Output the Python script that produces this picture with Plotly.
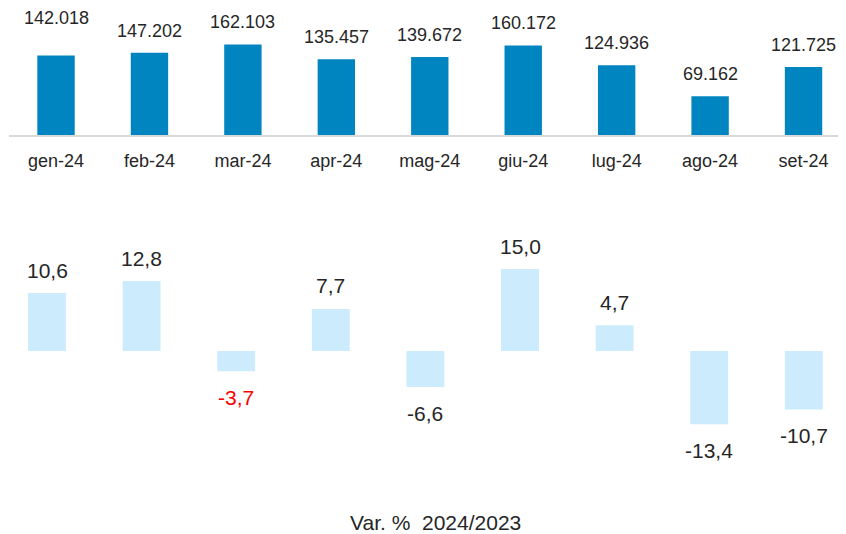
import plotly.graph_objects as go

months = ["gen-24", "feb-24", "mar-24", "apr-24", "mag-24", "giu-24", "lug-24", "ago-24", "set-24"]
volumes = [142018, 147202, 162103, 135457, 139672, 160172, 124936, 69162, 121725]
var_pct = [10.6, 12.8, -3.7, 7.7, -6.6, 15.0, 4.7, -13.4, -10.7]
title_text = "Var. %\u00a0 2024/2023"

FONT = "Arial, Liberation Sans, sans-serif"
TXT = "#262626"
W, H = 846, 534
OX, OY = 8, 8  # page body offset

def it_int(v):
    return f"{v:,.0f}".replace(",", ".")

def it_dec(v):
    return f"{v:.1f}".replace(".", ",")

fig = go.Figure()

fig.add_trace(go.Bar(x=list(range(len(months))), y=volumes, marker_color="#0085C0",
                     marker_line_width=0, width=0.40, xaxis="x", yaxis="y", hoverinfo="skip"))
fig.add_trace(go.Bar(x=list(range(len(months))), y=var_pct, marker_color="#CCEBFD",
                     marker_line_width=0, width=0.40, xaxis="x2", yaxis="y2", hoverinfo="skip"))

FS_TOP = 18
FS_BOT = 21
ann = []
for i, v in enumerate(volumes):
    ann.append(dict(x=i, y=v, xref="x", yref="y", text=it_int(v), showarrow=False,
                    yanchor="middle", yshift=38 if i == 0 else 22,
                    font=dict(family=FONT, size=FS_TOP, color=TXT)))
for i, v in enumerate(var_pct):
    col = "#FF0000" if i == 2 else TXT
    ann.append(dict(x=i, y=v, xref="x2", yref="y2", text=it_dec(v), showarrow=False,
                    yanchor="middle", yshift=23 if v >= 0 else -26,
                    font=dict(family=FONT, size=FS_BOT, color=col)))
ann.append(dict(x=(435 - OX) / W, y=1 - (522 - OY) / H, xref="paper", yref="paper",
                text=title_text, showarrow=False, yanchor="middle",
                font=dict(family=FONT, size=FS_BOT, color=TXT)))

top_scale = 0.000559  # px per unit
bot_scale = 5.46
top_left = 9.3 - OX
top_base = 135 - OY
bot_left = -0.3 - OX
bot_zero = 351 - OY
bot_top, bot_bot = 230 - OY, 470 - OY

fig.update_layout(
    width=W, height=H, margin=dict(l=0, r=0, t=0, b=0),
    paper_bgcolor="white", plot_bgcolor="white", showlegend=False,
    font=dict(family=FONT, size=FS_TOP, color=TXT),
    annotations=ann,
    xaxis=dict(domain=[top_left / W, 1], range=[-0.5, -0.5 + (W - top_left) / 93.44],
               tickmode="array", tickvals=list(range(len(months))), ticktext=months,
               showline=True, linecolor="#D9D9D9", linewidth=2, showgrid=False,
               zeroline=False, ticks="outside", ticklen=8, tickcolor="rgba(0,0,0,0)",
               tickfont=dict(family=FONT, size=FS_TOP, color=TXT), anchor="y"),
    yaxis=dict(domain=[1 - top_base / H, 1], range=[0, top_base / top_scale], visible=False),
    xaxis2=dict(domain=[0, 1], range=[-0.5 - bot_left / 94.6, -0.5 - bot_left / 94.6 + W / 94.6],
                visible=False, anchor="y2"),
    yaxis2=dict(domain=[1 - bot_bot / H, 1 - bot_top / H],
                range=[-(bot_bot - bot_zero) / bot_scale, (bot_zero - bot_top) / bot_scale],
                visible=False),
)

fig.write_html("out.html")
